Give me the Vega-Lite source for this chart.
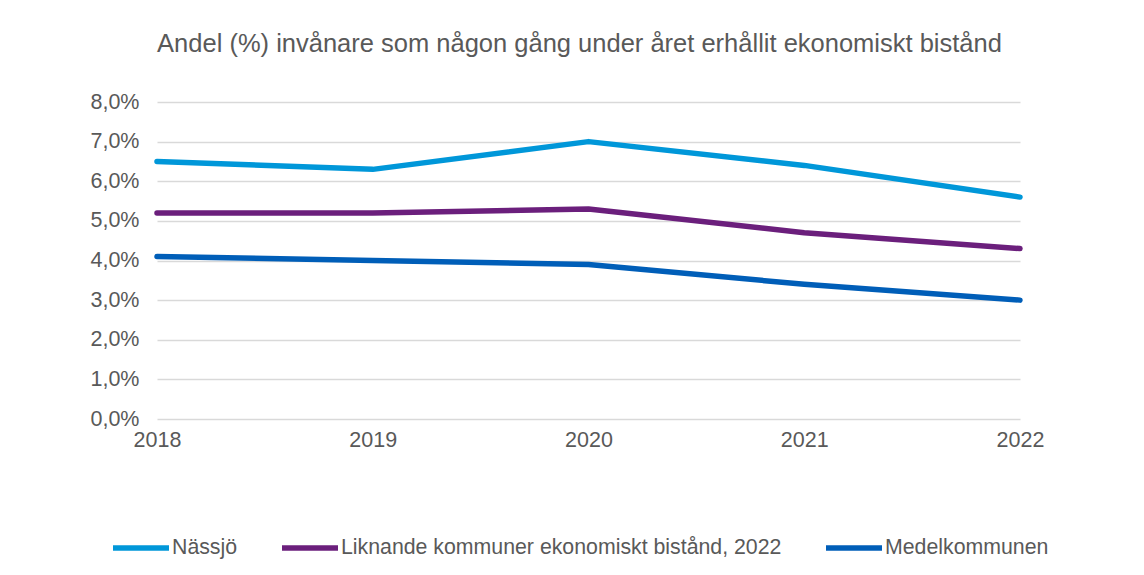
{
  "$schema": "https://vega.github.io/schema/vega-lite/v6.json",
  "autosize": {"type": "none"},
  "width": 863,
  "height": 317,
  "padding": {"left": 157, "top": 102, "right": 124, "bottom": 156},
  "background": "white",
  "title": {
    "text": "Andel (%) invånare som någon gång under året erhållit ekonomiskt bistånd",
    "anchor": "middle",
    "font": "Liberation Sans",
    "fontSize": 25.5,
    "fontWeight": "normal",
    "color": "#595959",
    "offset": 34,
    "dx": -9
  },
  "data": {
    "values": [
      {"year": "2018", "serie": "Nässjö", "value": 0.065},
      {"year": "2019", "serie": "Nässjö", "value": 0.063},
      {"year": "2020", "serie": "Nässjö", "value": 0.070},
      {"year": "2021", "serie": "Nässjö", "value": 0.064},
      {"year": "2022", "serie": "Nässjö", "value": 0.056},
      {"year": "2018", "serie": "Liknande kommuner ekonomiskt bistånd, 2022", "value": 0.052},
      {"year": "2019", "serie": "Liknande kommuner ekonomiskt bistånd, 2022", "value": 0.052},
      {"year": "2020", "serie": "Liknande kommuner ekonomiskt bistånd, 2022", "value": 0.053},
      {"year": "2021", "serie": "Liknande kommuner ekonomiskt bistånd, 2022", "value": 0.047},
      {"year": "2022", "serie": "Liknande kommuner ekonomiskt bistånd, 2022", "value": 0.043},
      {"year": "2018", "serie": "Medelkommunen", "value": 0.041},
      {"year": "2019", "serie": "Medelkommunen", "value": 0.040},
      {"year": "2020", "serie": "Medelkommunen", "value": 0.039},
      {"year": "2021", "serie": "Medelkommunen", "value": 0.034},
      {"year": "2022", "serie": "Medelkommunen", "value": 0.030}
    ]
  },
  "mark": {"type": "line", "strokeWidth": 5.5, "strokeCap": "round", "strokeJoin": "round"},
  "encoding": {
    "x": {
      "field": "year",
      "type": "ordinal",
      "scale": {"type": "point", "padding": 0},
      "axis": {
        "title": null,
        "labelAngle": 0,
        "domain": false,
        "ticks": false,
        "grid": false,
        "labelFont": "Liberation Sans",
        "labelFontSize": 21.5,
        "labelColor": "#595959",
        "labelPadding": 10
      }
    },
    "y": {
      "field": "value",
      "type": "quantitative",
      "scale": {"domain": [0, 0.08], "nice": false},
      "axis": {
        "title": null,
        "values": [0, 0.01, 0.02, 0.03, 0.04, 0.05, 0.06, 0.07, 0.08],
        "labelExpr": "replace(format(datum.value, '.1%'), '.', ',')",
        "domain": false,
        "ticks": false,
        "gridColor": "#D9D9D9",
        "gridWidth": 1.5,
        "labelFont": "Liberation Sans",
        "labelFontSize": 21.5,
        "labelColor": "#595959",
        "labelPadding": 18
      }
    },
    "color": {
      "field": "serie",
      "type": "nominal",
      "scale": {
        "domain": ["Nässjö", "Liknande kommuner ekonomiskt bistånd, 2022", "Medelkommunen"],
        "range": ["#0097D9", "#6B1F7C", "#005EB8"]
      },
      "legend": {
        "title": null,
        "orient": "none",
        "direction": "horizontal",
        "legendX": -47,
        "legendY": 415,
        "symbolType": "stroke",
        "symbolSize": 3136,
        "symbolStrokeWidth": 5.5,
        "labelFont": "Liberation Sans",
        "labelFontSize": 21.3,
        "labelColor": "#595959",
        "labelOffset": 0,
        "columnPadding": 33,
        "labelLimit": 600
      }
    }
  },
  "config": {"view": {"stroke": null}}
}
